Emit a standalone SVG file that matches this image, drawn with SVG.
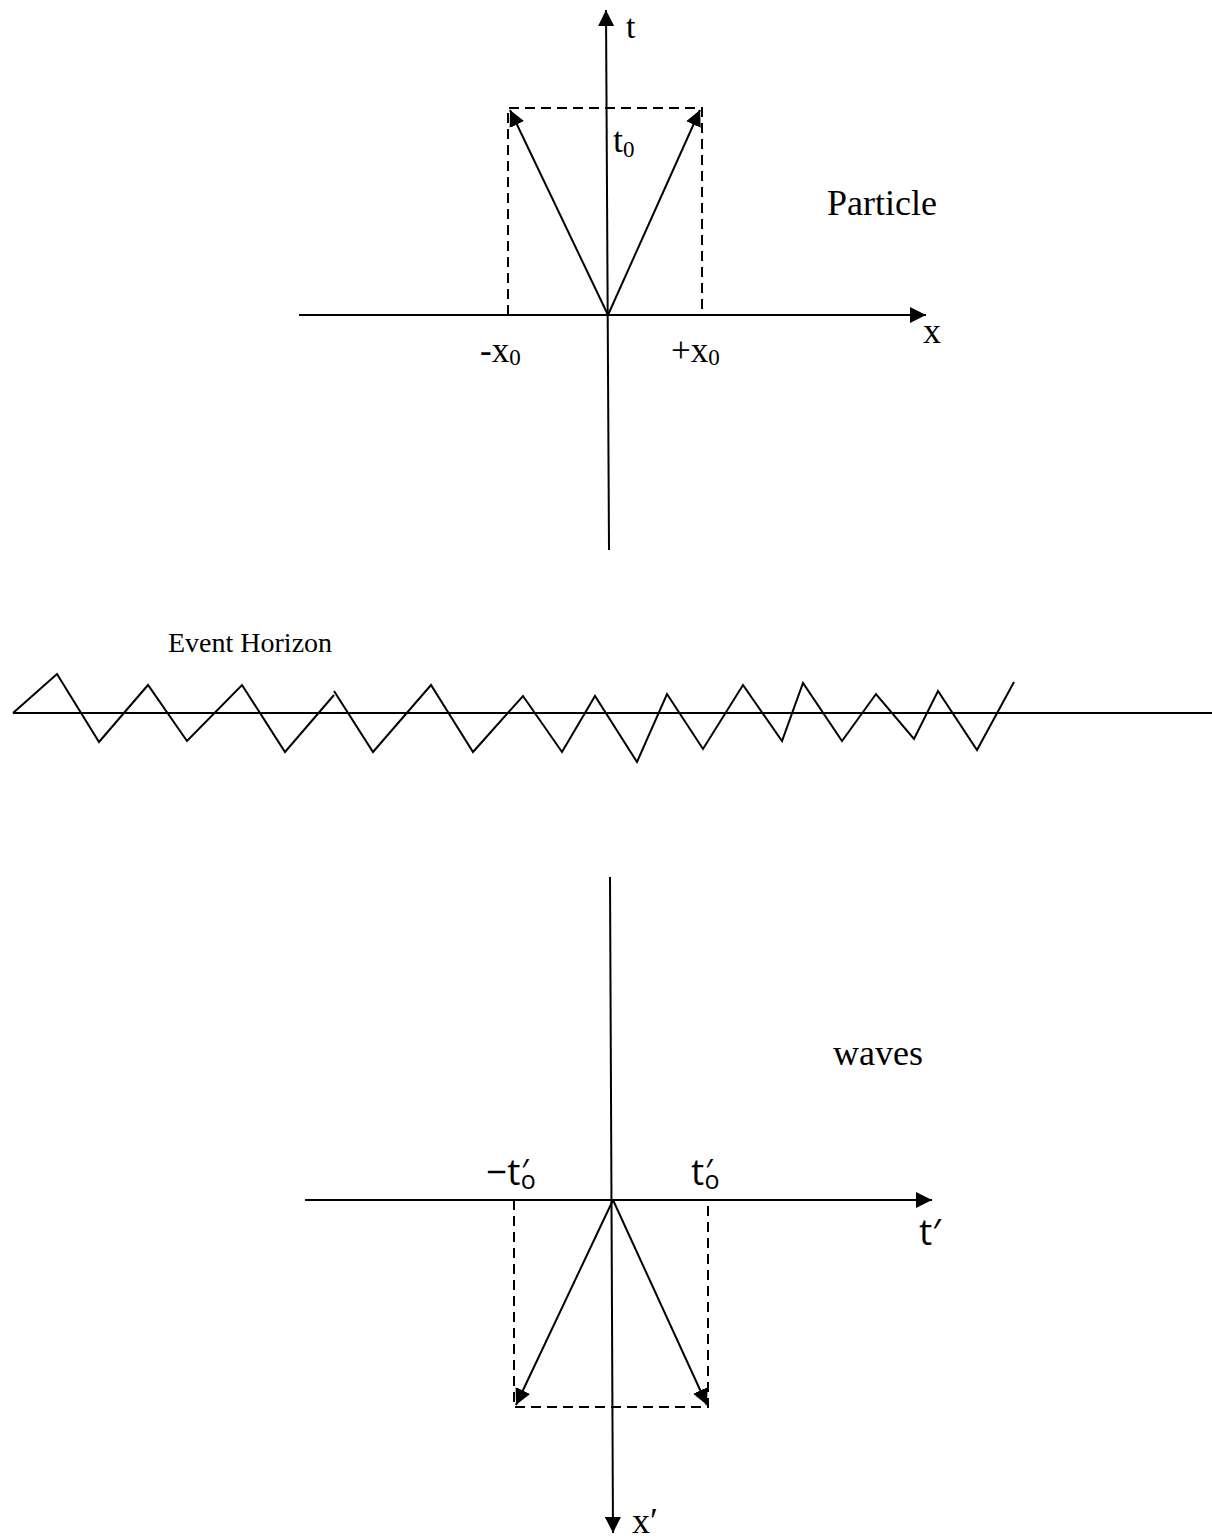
<svg xmlns="http://www.w3.org/2000/svg" width="1212" height="1538" viewBox="0 0 1212 1538">
<style>
.ln{stroke:#000;stroke-width:2;fill:none}
.dash{stroke:#000;stroke-width:2;fill:none;stroke-dasharray:10 6}
.serif{font-family:"Liberation Serif","Times New Roman",serif;fill:#000}
.sans{font-family:"Open Sans","Noto Sans","DejaVu Sans",sans-serif;fill:#000}
</style>
<defs>
<marker id="ah" markerUnits="userSpaceOnUse" markerWidth="16" markerHeight="16" refX="16" refY="8" orient="auto" viewBox="0 0 16 16">
<path d="M0,0 L16,8 L0,16 z" fill="#000"/>
</marker>
</defs>
<rect width="1212" height="1538" fill="#fff"/>
<g id="connectors">
<line class="ln" x1="609" y1="550" x2="606" y2="10" marker-end="url(#ah)"/>
<line class="ln" x1="299" y1="315" x2="926" y2="315" marker-end="url(#ah)"/>
<path class="dash" d="M508,315 V108 H702 V315"/>
<line class="ln" x1="608" y1="315" x2="510" y2="110" marker-end="url(#ah)"/>
<line class="ln" x1="608" y1="315" x2="700" y2="110" marker-end="url(#ah)"/>
<line class="ln" x1="13" y1="713" x2="1212" y2="713"/>
<polyline class="ln" points="13,713 57,674 99,742 148,685 187,741 242,685 285,752 334,695"/>
<polyline class="ln" points="334,691 373,752 431,685 473,752 523,696 562,752 595,696 637,762 667,694 703,749 743,685 782,741 803,683 842,741 876,694 914,739 938,691 977,750 1014,682"/>
<line class="ln" x1="610" y1="877" x2="613" y2="1533" marker-end="url(#ah)"/>
<line class="ln" x1="305" y1="1200" x2="932" y2="1200" marker-end="url(#ah)"/>
<path class="dash" d="M514,1200 V1407 H708 V1200"/>
<line class="ln" x1="613" y1="1200" x2="516" y2="1405" marker-end="url(#ah)"/>
<line class="ln" x1="613" y1="1200" x2="707" y2="1405" marker-end="url(#ah)"/>
</g>
<g id="label-t"><text class="serif" x="626" y="38" font-size="34">t</text></g>
<g id="label-t0"><text class="serif" x="613" y="152" font-size="36">t<tspan font-size="23" dy="5">0</tspan></text></g>
<g id="label-particle"><text class="serif" x="827" y="215" font-size="36">Particle</text></g>
<g id="label-x"><text class="serif" x="923" y="343" font-size="36">x</text></g>
<g id="label-mx0"><text class="serif" x="480" y="362" font-size="35">-x<tspan font-size="23" dy="3">0</tspan></text></g>
<g id="label-px0"><text class="serif" x="671" y="362" font-size="35">+x<tspan font-size="23" dy="3">0</tspan></text></g>
<g id="label-eh"><text class="serif" x="168" y="652" font-size="28">Event Horizon</text></g>
<g id="label-waves"><text class="serif" x="833" y="1065" font-size="36">waves</text></g>
<g id="label-mto"><text class="sans" x="486" y="1185" font-size="37">−t<tspan font-size="32" dx="1" dy="-2">′</tspan><tspan font-size="25" dx="-8" dy="6">o</tspan></text></g>
<g id="label-to"><text class="sans" x="691" y="1185" font-size="37">t<tspan font-size="32" dx="1" dy="-2">′</tspan><tspan font-size="25" dx="-8" dy="6">o</tspan></text></g>
<g id="label-tp"><text class="sans" x="919" y="1245" font-size="37">t′</text></g>
<g id="label-xp"><text class="serif" x="632" y="1533" font-size="36">x′</text></g>
</svg>
